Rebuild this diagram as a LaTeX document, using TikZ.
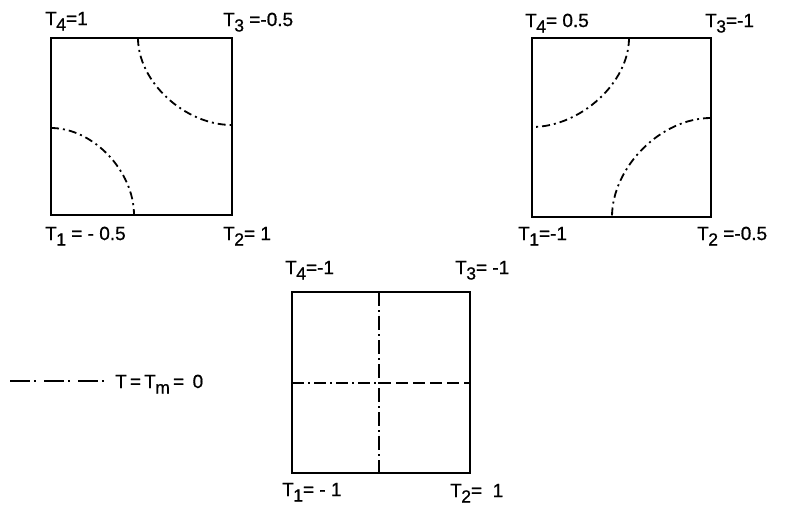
\documentclass[tikz,border=0pt]{standalone}
\usepackage{fontspec}
\setmainfont{Liberation Sans}[BoldFont=Liberation Sans, BoldFeatures={FakeBold=0.8}]
\newcommand{\Tsub}[1]{T\kern-0.5pt\raisebox{-5.5pt}{\fontsize{17.5}{18}\selectfont #1}}
\tikzset{
  boxline/.style={line width=1.6pt, line join=miter},
  contour/.style={line width=1.8pt, dash pattern=on 8pt off 4pt on 2pt off 4pt},
  longdashdot/.style={line width=1.7pt, dash pattern=on 14pt off 4pt on 2pt off 4pt},
  longdash/.style={line width=1.7pt, dash pattern=on 12pt off 5pt},
  lbl/.style={anchor=base west, inner sep=0pt, font=\fontsize{19}{21}\selectfont\bfseries},
}
\begin{document}
\begin{tikzpicture}[x=1pt,y=-1pt]
\useasboundingbox (0,0) rectangle (788,515);
% ---------- box 1 ----------
\coordinate (a1) at (51,215); \coordinate (a3) at (232,38);
\draw[boxline] (a1) rectangle (a3);
\coordinate (a1t) at (138,38); \coordinate (a1r) at (232,125);
\coordinate (a1l) at (51,128); \coordinate (a1b) at (134,215);
\draw[contour] (a1t) .. controls (138,82) and (185,125) .. (a1r);
\draw[contour] (a1l) .. controls (93,128) and (134,171) .. (a1b);
\node[lbl] (a1T4) at (45,25) {\Tsub{4}=1};
\node[lbl] (a1T3) at (223,26) {\Tsub{3} =-0.5};
\node[lbl] (a1T1) at (45,240) {\Tsub{1} = - 0.5};
\node[lbl] (a1T2) at (223,240) {\Tsub{2}= 1};
% ---------- box 2 ----------
\coordinate (b1) at (532,217); \coordinate (b3) at (711,38);
\draw[boxline] (b1) rectangle (b3);
\coordinate (b2t) at (629,38); \coordinate (b2l) at (532,127);
\coordinate (b2r) at (711,118); \coordinate (b2b) at (612,217);
\draw[contour] (b2t) .. controls (629,83) and (580,127) .. (b2l);
\draw[contour] (b2r) .. controls (661,118) and (612,167) .. (b2b);
\node[lbl] (b2T4) at (525,27) {\Tsub{4}= 0.5};
\node[lbl] (b2T3) at (705,27) {\Tsub{3}=-1};
\node[lbl] (b2T1) at (518,240) {\Tsub{1}=-1};
\node[lbl] (b2T2) at (697,240) {\Tsub{2} =-0.5};
% ---------- box 3 ----------
\coordinate (c1) at (292,473); \coordinate (c3) at (470,292);
\draw[boxline] (c1) rectangle (c3);
\coordinate (cvt) at (379,292); \coordinate (cvb) at (379,473);
\coordinate (chl) at (292,383); \coordinate (chm) at (379,383); \coordinate (chr) at (470,383);
\draw[longdashdot] (cvt) -- (cvb);
\draw[contour, dash pattern=on 12pt off 4pt on 2pt off 4pt] (chl) -- (chm);
\draw[longdash] (chm) -- (chr);
\node[lbl] (c3T4) at (285,274) {\Tsub{4}=-1};
\node[lbl] (c3T3) at (455,274) {\Tsub{3}= -1};
\node[lbl] (c3T1) at (282,496) {\Tsub{1}= - 1};
\node[lbl] (c3T2) at (450,497) {\Tsub{2}=\ \ 1};
% ---------- legend ----------
\coordinate (lg1) at (10,381); \coordinate (lg2) at (104,381);
\draw[line width=1.8pt, dash pattern=on 20pt off 4pt on 2pt off 8pt] (lg1) -- (lg2);
\node[lbl] (lgtxt) at (115,388) {T\,=\,\Tsub{m}\,= \,0};
\end{tikzpicture}
\end{document}
